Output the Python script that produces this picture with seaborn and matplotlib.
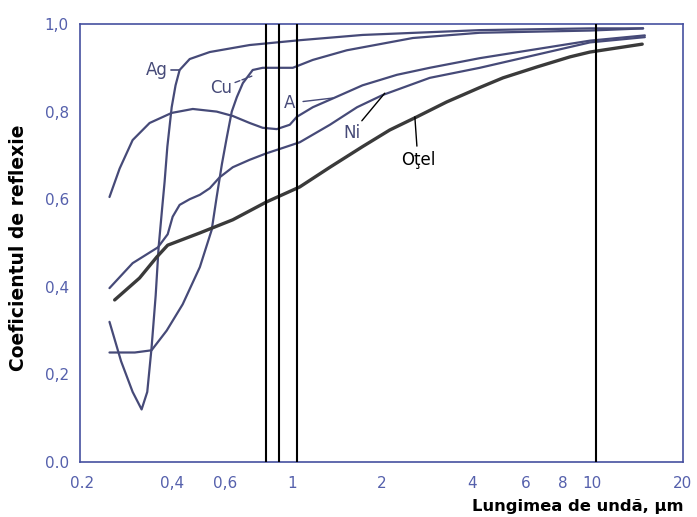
import numpy as np
import pandas as pd
import matplotlib
matplotlib.use("Agg")
import matplotlib.pyplot as plt
import seaborn as sns

# ---- data (wavelength in µm, reflectance) ----
ag_wl = [0.247, 0.27, 0.295, 0.316, 0.33, 0.341, 0.352, 0.36, 0.37, 0.377, 0.385, 0.398, 0.41, 0.423, 0.457, 0.533, 0.724, 1.063, 1.72, 4.23, 9.85, 14.8]
ag_r = [0.32, 0.23, 0.16, 0.12, 0.16, 0.26, 0.38, 0.49, 0.58, 0.64, 0.72, 0.81, 0.86, 0.895, 0.92, 0.936, 0.952, 0.963, 0.975, 0.986, 0.99, 0.99]

cu_wl = [0.247, 0.30, 0.341, 0.383, 0.433, 0.494, 0.541, 0.562, 0.585, 0.607, 0.631, 0.656, 0.687, 0.741, 0.80, 0.891, 1.008, 1.175, 1.525, 2.53, 4.23, 9.85, 14.8]
cu_r = [0.25, 0.25, 0.255, 0.30, 0.36, 0.445, 0.53, 0.605, 0.68, 0.74, 0.80, 0.833, 0.865, 0.895, 0.90, 0.90, 0.90, 0.918, 0.94, 0.968, 0.98, 0.985, 0.99]

al_wl = [0.247, 0.267, 0.295, 0.336, 0.398, 0.468, 0.562, 0.636, 0.724, 0.80, 0.891, 0.985, 1.039, 1.175, 1.37, 1.72, 2.24, 2.88, 4.23, 9.85, 15.0]
al_r = [0.605, 0.67, 0.735, 0.774, 0.797, 0.806, 0.80, 0.79, 0.774, 0.763, 0.76, 0.77, 0.788, 0.81, 0.83, 0.86, 0.884, 0.90, 0.922, 0.962, 0.974]

ni_wl = [0.247, 0.295, 0.358, 0.386, 0.401, 0.423, 0.457, 0.494, 0.533, 0.575, 0.636, 0.724, 0.825, 0.933, 1.063, 1.34, 1.65, 2.01, 2.88, 4.23, 9.85, 15.0]
ni_r = [0.397, 0.454, 0.49, 0.52, 0.56, 0.587, 0.60, 0.61, 0.625, 0.65, 0.673, 0.69, 0.705, 0.717, 0.73, 0.77, 0.81, 0.838, 0.877, 0.90, 0.958, 0.97]

otel_wl = [0.257, 0.311, 0.355, 0.386, 0.494, 0.636, 0.825, 1.063, 1.34, 1.72, 2.12, 2.61, 3.28, 4.23, 5.05, 6.56, 8.45, 9.85, 14.7]
otel_r = [0.37, 0.42, 0.468, 0.495, 0.523, 0.553, 0.594, 0.628, 0.673, 0.72, 0.758, 0.788, 0.822, 0.855, 0.877, 0.902, 0.925, 0.936, 0.954]

laser_lines = [0.819, 0.909, 1.04, 10.3]

x_ticks = [0.2, 0.4, 0.6, 1, 2, 4, 6, 8, 10, 20]
x_tick_labels = ["0.2", "0,4", "0,6", "1", "2", "4", "6", "8", "10", "20"]
y_ticks = [0.0, 0.2, 0.4, 0.6, 0.8, 1.0]
y_tick_labels = ["0.0", "0,2", "0,4", "0,6", "0,8", "1,0"]

sns.set_style("white")
plt.rcParams['font.family'] = ['DejaVu Sans']

fig = plt.figure(figsize=(6.97, 5.17), dpi=100)
ax = fig.add_axes([80/697, 1 - 462/517, (683 - 80)/697, (462 - 24)/517])

blue = '#4650a0'
tick_c = '#5560ac'
curve_c = '#464a78'
steel_c = '#3a3a3a'

series = [
    ("Ag", ag_wl, ag_r, curve_c, 1.6),
    ("Cu", cu_wl, cu_r, curve_c, 1.6),
    ("Al", al_wl, al_r, curve_c, 1.6),
    ("Ni", ni_wl, ni_r, curve_c, 1.6),
    ("Oţel", otel_wl, otel_r, steel_c, 2.4),
]
for name, wl, r, c, lw in series:
    df = pd.DataFrame({"wl": wl, "r": r})
    sns.lineplot(data=df, x="wl", y="r", ax=ax, color=c, linewidth=lw, sort=False)

for xv in laser_lines:
    ax.axvline(xv, color='black', lw=1.5, zorder=5)

ax.set_xscale('log')
ax.set_xlim(0.197, 20.1)
ax.set_ylim(0, 1.0)
ax.set_xticks(x_ticks)
ax.set_xticklabels(x_tick_labels)
ax.minorticks_off()
ax.set_yticks(y_ticks)
ax.set_yticklabels(y_tick_labels)
ax.tick_params(axis='x', direction='in', length=13, width=1, color=blue, labelcolor=tick_c, labelsize=11, pad=10)
ax.tick_params(axis='y', direction='in', length=9, width=1, color=blue, labelcolor=tick_c, labelsize=11, pad=8)
for s in ax.spines.values():
    s.set_color(blue)
    s.set_linewidth(1.2)
    s.set_visible(True)

ax.set_xlabel("")
ax.set_ylabel("")
fig.text(683/697, 1 - 507/517, "Lungimea de undă, µm", ha='right', va='center', fontsize=11.8, fontweight='bold', color='black')
fig.text(19/697, 1 - 248/517, "Coeficientul de reflexie", ha='center', va='center', rotation=90, fontsize=13.5, fontweight='bold', color='black')

# curve labels
ax.annotate("Ag", xy=(0.423, 0.895), xytext=(0.386, 0.895), ha='right', va='center', fontsize=12, color=curve_c,
            arrowprops=dict(arrowstyle='-', color=curve_c, lw=1.2, shrinkA=0, shrinkB=0))
ax.annotate("Cu", xy=(0.736, 0.881), xytext=(0.631, 0.854), ha='right', va='center', fontsize=12, color=curve_c,
            arrowprops=dict(arrowstyle='-', color=curve_c, lw=1.0, ls='--', shrinkA=0, shrinkB=0))
ax.annotate("Al", xy=(1.37, 0.831), xytext=(1.063, 0.82), ha='right', va='center', fontsize=12, color=curve_c,
            arrowprops=dict(arrowstyle='-', color=curve_c, lw=1.0, shrinkA=0, shrinkB=0))
ax.annotate("Ni", xy=(2.04, 0.842), xytext=(1.69, 0.751), ha='right', va='center', fontsize=12, color=curve_c,
            arrowprops=dict(arrowstyle='-', color='black', lw=1.0, shrinkA=0, shrinkB=0))
ax.annotate("Oţel", xy=(2.57, 0.788), xytext=(2.63, 0.69), ha='center', va='center', fontsize=12, color='black',
            arrowprops=dict(arrowstyle='-', color='black', lw=1.0, shrinkA=1, shrinkB=0))

fig.savefig("out.png", dpi=100, facecolor='white')
